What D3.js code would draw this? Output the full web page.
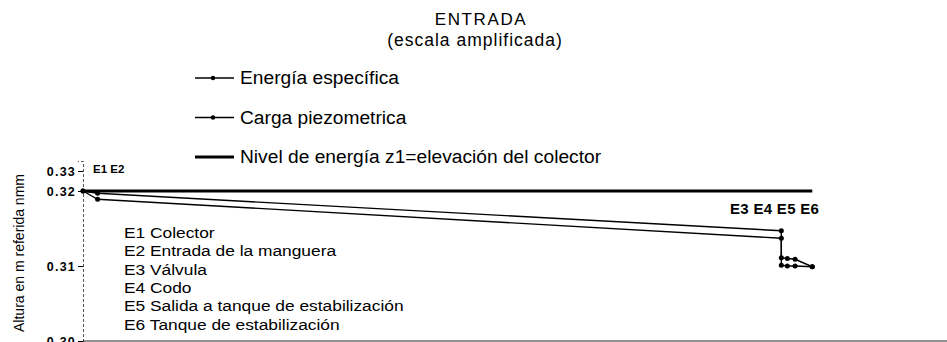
<!DOCTYPE html>
<html lang="es">
  <head>
    <meta charset="utf-8" />
    <title>Entrada (escala amplificada)</title>
    <script src="https://cdn.jsdelivr.net/npm/d3@7"></script>
    <style>
      body {
        margin: 0;
        background: #fff;
      }
      svg {
        display: block;
        font-family: Arial, 'Liberation Sans', sans-serif;
      }
    </style>
  </head>
  <body>
    <div id="chart"></div>

    <script type="text/javascript">
      // Distancia a lo largo de la tubería (unidades relativas) y alturas
      var distancia = [0, 0.17, 8.12, 8.12, 8.19, 8.28, 8.48]
      var energiaEspecifica = [0.32, 0.3197, 0.3147, 0.3111, 0.311, 0.3109, 0.3099]
      var cargaPiezometrica = [0.32, 0.3189, 0.3137, 0.3101, 0.31, 0.31, 0.3099]
      var nivelDistancia = [0, 8.48]
      var nivelEnergia = [0.32, 0.32]
      var yTicks = [0.3, 0.31, 0.32, 0.33]
      var leyenda = ['Energía específica', 'Carga piezometrica', 'Nivel de energía z1=elevación del colector']
      var puntos = [
        'E1 Colector',
        'E2 Entrada de la manguera',
        'E3 Válvula',
        'E4 Codo',
        'E5 Salida a tanque de estabilización',
        'E6 Tanque de estabilización'
      ]

      var width = 947,
        height = 342

      var svg = d3.select('#chart').append('svg').attr('width', width).attr('height', height)

      // Escalas (el eje vertical del original no es uniforme entre 0.32 y 0.33)
      var x = d3.scaleLinear().domain([0, 10]).range([83, 943])
      var y = d3.scaleLinear().domain([0.3, 0.31, 0.32, 0.33, 0.335]).range([341, 266, 191, 171, 161])

      // Titulo
      svg
        .append('text')
        .attr('x', 481)
        .attr('y', 25)
        .attr('text-anchor', 'middle')
        .style('font-size', '17px')
        .style('letter-spacing', '1.6px')
        .text('ENTRADA')
      svg
        .append('text')
        .attr('x', 475)
        .attr('y', 46)
        .attr('text-anchor', 'middle')
        .style('font-size', '17.5px')
        .style('letter-spacing', '1px')
        .text('(escala amplificada)')

      // Eje Y
      var yAxis = svg
        .append('g')
        .attr('transform', 'translate(' + x(0) + ',0)')
        .call(
          d3
            .axisLeft(y)
            .tickValues(yTicks)
            .tickSize(5)
            .tickFormat(d3.format('.2f'))
        )
      yAxis.select('.domain').attr('stroke', '#555').attr('stroke-dasharray', '3,2')
      yAxis
        .selectAll('.tick text')
        .style('font-size', '12.5px')
        .style('font-weight', 'bold')
        .style('letter-spacing', '1.2px')
        .attr('x', -7)
        .attr('dy', '0.35em')

      // Eje X (solo línea)
      svg
        .append('line')
        .attr('x1', x(0))
        .attr('x2', width)
        .attr('y1', y(0.3))
        .attr('y2', y(0.3))
        .attr('stroke', '#222')
        .attr('stroke-width', 1)

      // Titulo eje Y
      svg
        .append('text')
        .attr('transform', 'translate(24,253) rotate(-90)')
        .attr('text-anchor', 'middle')
        .style('font-size', '14px')
        .text('Altura en m referida nmm')

      // Nivel de energía
      var line = d3
        .line()
        .x(function (d) {
          return x(d[0])
        })
        .y(function (d) {
          return y(d[1])
        })

      svg
        .append('path')
        .datum(d3.zip(nivelDistancia, nivelEnergia))
        .attr('d', line)
        .attr('fill', 'none')
        .attr('stroke', '#000')
        .attr('stroke-width', 3.2)

      // Series con marcadores
      ;[energiaEspecifica, cargaPiezometrica].forEach(function (serie) {
        var datos = d3.zip(distancia, serie)
        svg
          .append('path')
          .datum(datos)
          .attr('d', line)
          .attr('fill', 'none')
          .attr('stroke', '#000')
          .attr('stroke-width', 1.4)
        svg
          .append('g')
          .selectAll('circle')
          .data(datos)
          .enter()
          .append('circle')
          .attr('cx', function (d) {
            return x(d[0])
          })
          .attr('cy', function (d) {
            return y(d[1])
          })
          .attr('r', 2.5)
          .attr('fill', '#000')
      })

      // Leyenda
      var leg = svg.append('g')
      leyenda.forEach(function (t, i) {
        var ly = 78 + i * 39.5
        leg
          .append('line')
          .attr('x1', 195)
          .attr('x2', 234)
          .attr('y1', ly)
          .attr('y2', ly)
          .attr('stroke', '#000')
          .attr('stroke-width', i == 2 ? 2.8 : 1.4)
        if (i < 2) leg.append('circle').attr('cx', 213).attr('cy', ly).attr('r', 2.2).attr('fill', '#000')
        leg
          .append('text')
          .attr('x', 240)
          .attr('y', ly + 6)
          .style('font-size', '19.2px')
          .text(t)
      })

      // Etiquetas de puntos
      svg
        .append('text')
        .attr('x', 93)
        .attr('y', 173)
        .style('font-size', '11.5px')
        .style('font-weight', 'bold')
        .text('E1 E2')
      svg
        .append('text')
        .attr('x', 730)
        .attr('y', 214)
        .style('font-size', '15px')
        .style('font-weight', 'bold')
        .style('letter-spacing', '0.3px')
        .text('E3 E4 E5 E6')

      // Lista de puntos (el original está algo estirado en horizontal)
      puntos.forEach(function (t, i) {
        svg
          .append('text')
          .attr('transform', 'translate(124,' + (238 + i * 18.3) + ') scale(1.12,1)')
          .style('font-size', '15.5px')
          .text(t)
      })
    </script>
  </body>
</html>
